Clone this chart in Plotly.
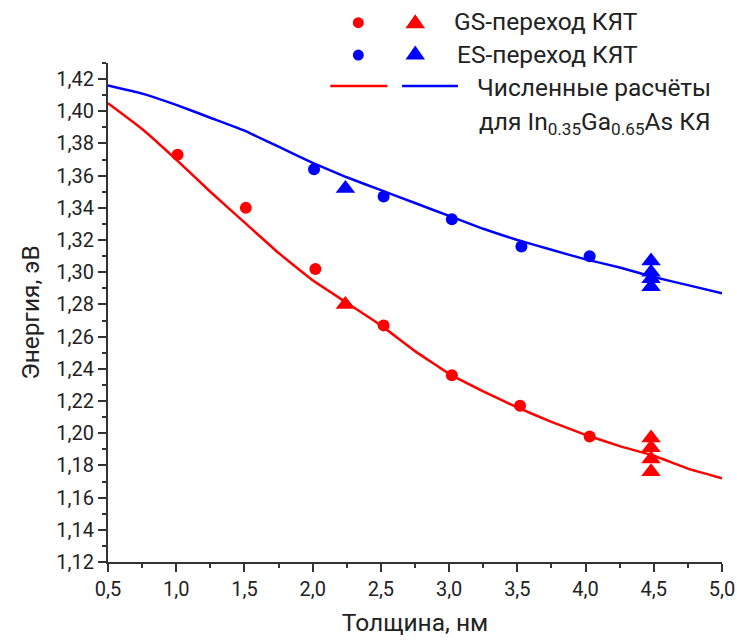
import plotly.graph_objects as go

# ---- data ----
calc_x = [0.5, 0.75, 1.0, 1.25, 1.5, 1.75, 2.0, 2.25, 2.5, 2.75, 3.0, 3.25, 3.5, 3.75, 4.0, 4.25, 4.5, 4.75, 5.0]
calc_gs = [1.405, 1.389, 1.370, 1.350, 1.331, 1.312, 1.295, 1.281, 1.267, 1.251, 1.237, 1.226, 1.216, 1.207, 1.199, 1.192, 1.186, 1.178, 1.172]
calc_es = [1.416, 1.411, 1.404, 1.396, 1.388, 1.378, 1.368, 1.359, 1.351, 1.343, 1.335, 1.327, 1.320, 1.314, 1.308, 1.303, 1.297, 1.292, 1.287]

gs_circ_x = [1.01, 1.51, 2.02, 2.52, 3.02, 3.52, 4.03]
gs_circ_y = [1.373, 1.340, 1.302, 1.267, 1.236, 1.217, 1.198]
gs_tri_x = [2.24, 4.48, 4.48, 4.48, 4.48]
gs_tri_y = [1.280, 1.197, 1.191, 1.184, 1.176]

es_circ_x = [2.01, 2.52, 3.02, 3.53, 4.03]
es_circ_y = [1.364, 1.347, 1.333, 1.316, 1.310]
es_tri_x = [2.24, 4.48, 4.48, 4.48, 4.48]
es_tri_y = [1.352, 1.307, 1.300, 1.296, 1.291]

RED = "#ff0000"
BLUE = "#0000ff"
FONT = "Roboto"
TXT = "#222222"

fig = go.Figure()
fig.add_trace(go.Scatter(x=calc_x, y=calc_gs, mode="lines", line=dict(color=RED, width=2.5, shape="spline", smoothing=0.3), showlegend=False))
fig.add_trace(go.Scatter(x=calc_x, y=calc_es, mode="lines", line=dict(color=BLUE, width=2.5, shape="spline", smoothing=0.3), showlegend=False))
fig.add_trace(go.Scatter(x=gs_circ_x, y=gs_circ_y, mode="markers", marker=dict(color=RED, size=12, symbol="circle"), showlegend=False))
fig.add_trace(go.Scatter(x=gs_tri_x, y=gs_tri_y, mode="markers", marker=dict(color=RED, size=17, symbol="triangle-up"), showlegend=False))
fig.add_trace(go.Scatter(x=es_circ_x, y=es_circ_y, mode="markers", marker=dict(color=BLUE, size=12, symbol="circle"), showlegend=False))
fig.add_trace(go.Scatter(x=es_tri_x, y=es_tri_y, mode="markers", marker=dict(color=BLUE, size=17, symbol="triangle-up"), showlegend=False))

# ---- custom legend (paper coords) ----
shapes = []
def circ(xp, yp, color):
    shapes.append(dict(type="circle", xref="paper", yref="paper", xsizemode="pixel", ysizemode="pixel",
                       xanchor=xp, yanchor=yp, x0=-5.5, x1=5.5, y0=-5.5, y1=5.5,
                       fillcolor=color, line=dict(width=0)))
def tri(xp, yp, color):
    shapes.append(dict(type="path", xref="paper", yref="paper", xsizemode="pixel", ysizemode="pixel",
                       xanchor=xp, yanchor=yp, path="M-9.8,-6.5 L9.8,-6.5 L0,7.5 Z",
                       fillcolor=color, line=dict(width=0)))
circ(0.4077, 1.0808, RED)
tri(0.5004, 1.0828, RED)
circ(0.4077, 1.016, BLUE)
tri(0.5004, 1.020, BLUE)
shapes.append(dict(type="line", xref="paper", yref="paper", x0=0.362, x1=0.455, y0=0.9539, y1=0.9539, line=dict(color=RED, width=2.5)))
shapes.append(dict(type="line", xref="paper", yref="paper", x0=0.479, x1=0.570, y0=0.9539, y1=0.9539, line=dict(color=BLUE, width=2.5)))

ann_font = dict(family=FONT, size=24.5, color=TXT)
annotations = [
    dict(text="GS-переход КЯТ", x=0.5601, y=1.0822, xref="paper", yref="paper", xanchor="left", yanchor="middle", showarrow=False, font=ann_font),
    dict(text="ES-переход КЯТ", x=0.5655, y=1.018, xref="paper", yref="paper", xanchor="left", yanchor="middle", showarrow=False, font=ann_font),
    dict(text="Численные расчёты", x=0.9853, y=0.950, xref="paper", yref="paper", xanchor="right", yanchor="middle", showarrow=False, font=ann_font),
    dict(text="для In<sub>0.35</sub>Ga<sub>0.65</sub>As КЯ", x=0.9853, y=0.880, xref="paper", yref="paper", xanchor="right", yanchor="middle", showarrow=False, font=ann_font),
]

axis_common = dict(showline=True, linecolor="#333333", linewidth=2, ticks="outside", ticklen=8, tickwidth=2,
                   tickcolor="#333333", showgrid=False, zeroline=False, mirror=False, automargin=False,
                   tickfont=dict(family=FONT, size=20, color=TXT))

fig.update_layout(
    width=737, height=641,
    margin=dict(l=107.5, r=15, t=63, b=79),
    paper_bgcolor="white", plot_bgcolor="white",
    separators=", ",
    showlegend=False,
    shapes=shapes,
    annotations=annotations,
    xaxis=dict(range=[0.5, 5.0], tick0=0.5, dtick=0.5, tickformat=".1f",
               minor=dict(dtick=0.25, tick0=0.5, ticklen=4, tickwidth=2, tickcolor="#333333", ticks="outside"),
               title=dict(text="Толщина, нм", font=dict(family=FONT, size=24.5, color=TXT), standoff=14),
               **axis_common),
    yaxis=dict(range=[1.12, 1.43], tick0=1.12, dtick=0.02, tickformat=".2f",
               minor=dict(dtick=0.01, tick0=1.12, ticklen=4, tickwidth=2, tickcolor="#333333", ticks="outside"),
               title=dict(text="Энергия, эВ", font=dict(family=FONT, size=24.5, color=TXT), standoff=10),
               **axis_common),
)

fig.write_html("out.html")
